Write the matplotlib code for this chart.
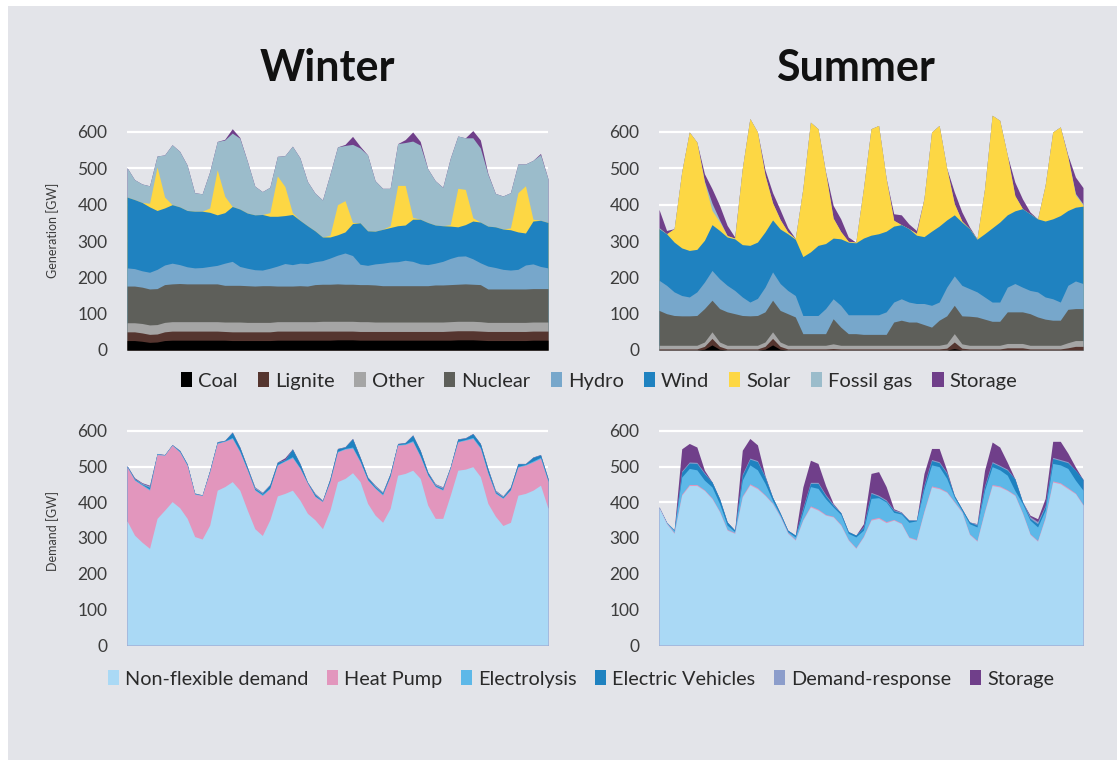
import matplotlib
matplotlib.use("Agg")
import matplotlib.pyplot as plt
from matplotlib.patches import Rectangle, Patch
import numpy as np

plt.rcParams['font.family'] = ['Lato', 'DejaVu Sans']

# time axis: one week, 3-hour steps
hours = list(range(0, 169, 3))

# ---------------- Winter generation [GW] ----------------
coal_w = [26,26,24,21,22,26,27,27,27,27, 27,27,27,27,26,26,26,26,26,26,
          27,27,27,27,27,27,27,27,28,28, 28,27,27,27,27,27,27,27,27,27,
          27,27,27,27,28,28,28,27,26,26, 26,26,26,26,27,27,27]
lignite_w = [24,24,23,22,22,24,25,25,25,25, 25,25,25,24,24,24,24,24,24,24,
             25,25,25,25,25,25,25,25,24,24, 24,24,24,24,24,24,24,24,24,24,
             24,24,24,25,25,25,25,25,25,25, 25,25,25,25,25,25,25]
other_w = [25,25,26,26,26,26,26,26,26,26, 26,26,26,26,27,27,26,26,26,26,
           26,26,26,26,26,26,27,27,27,27, 27,27,27,26,26,26,26,26,26,26,
           26,26,26,26,26,26,26,26,25,25, 25,25,25,25,25,25,25]
nuclear_w = [101,101,100,99,99,104,104,105,104,104, 104,104,104,101,101,101,101,100,101,101,
             98,98,98,99,98,102,102,102,103,102, 102,102,102,102,100,100,100,100,100,100,
             100,102,102,102,102,103,102,102,92,92, 92,92,92,92,92,92,92]
hydro_w = [50,48,45,46,53,54,57,52,47,44, 45,48,51,61,66,52,48,45,43,48,
           55,62,59,62,62,63,65,72,79,86, 79,56,53,58,62,65,66,70,67,60,
           58,60,65,72,77,77,70,60,63,59, 54,52,54,66,68,61,57]
wind_w = [195,190,188,180,162,157,161,159,155,156, 155,149,139,139,151,158,152,151,153,143,
          137,132,138,118,104,85,65,58,56,58, 88,114,95,90,93,95,99,97,116,123,
          116,105,98,89,81,86,104,112,110,112, 111,111,103,88,118,127,125]
solar_w = [0,0,0,10,120,30,0,0,0,0, 0,12,124,45,0,0,0,0,0,10,
           111,80,5,0,0,0,0,5,83,86, 3,0,0,0,0,5,111,109,5,0,
           0,0,0,4,106,97,9,0,0,0, 0,5,108,130,5,0,0]
gas_w = [81,55,51,48,30,116,165,153,125,51, 48,100,78,155,202,195,143,79,63,70,
         54,85,183,172,122,104,102,168,159,152, 215,206,209,139,113,103,115,118,210,204,
         148,122,106,183,144,142,220,204,143,92, 91,97,79,60,162,181,120]
storage_w = [0,0,0,0,0,0,0,0,0,0, 0,0,0,2,12,2,0,0,0,0,
             0,0,0,0,0,0,0,0,0,3, 22,5,0,0,0,0,0,8,25,10,
             0,0,0,0,0,0,20,22,2,0, 0,0,0,0,0,3,0]

# ---------------- Summer generation [GW] ----------------
coal_s = [0,0,0,0,0,0,2,14,2,0, 0,0,0,0,2,14,2,0,0,0,
          0,0,0,0,0,0,0,0,0,0, 0,0,0,0,0,0,0,0,0,4,
          0,0,0,0,0,0,0,0,0,0, 0,0,0,0,0,0,0]
lignite_s = [3,3,3,3,3,3,8,18,8,3, 3,3,3,3,8,18,8,3,3,3,
             3,3,3,4,3,3,3,3,3,3, 3,3,3,3,3,3,3,3,5,18,
             5,3,3,3,3,3,6,6,6,3, 3,3,3,3,6,10,10]
other_s = [10,10,10,10,10,10,12,18,12,10, 10,10,10,10,12,18,12,10,10,10,
           10,10,10,13,10,10,10,10,10,10, 10,10,10,10,10,10,10,10,12,23,
           12,10,10,10,10,10,12,12,12,10, 10,10,10,10,14,16,16]
nuclear_s = [96,87,82,81,81,82,92,87,92,92, 87,82,81,82,83,87,87,87,78,32,
             32,32,32,69,50,32,32,30,30,30, 30,64,69,64,64,57,50,69,77,78,
             77,80,78,72,66,66,87,87,87,87, 78,72,69,69,92,88,88]
hydro_s = [83,78,65,56,52,65,73,82,82,73, 64,51,38,47,68,78,74,64,59,50,
           50,50,69,55,60,52,52,54,54,54, 62,55,59,55,51,58,60,50,79,81,
           84,76,69,61,53,53,68,78,68,64, 69,61,59,50,66,76,69]
wind_s = [142,142,137,131,128,117,115,126,133,133, 142,144,156,155,152,143,150,156,155,162,
          175,193,179,167,183,200,198,211,219,223, 222,209,204,202,188,184,204,209,185,168,
          174,165,145,174,204,220,199,200,216,211, 201,209,220,238,206,203,213]
solar_s = [0,0,37,209,326,295,160,39,24,4, 2,209,349,303,156,47,26,5,2,187,
           357,321,195,55,20,2,2,136,293,298, 145,16,0,0,5,105,273,277,142,31,
           3,0,1,124,310,280,164,42,0,0, 0,98,239,244,147,34,3]
gas_s = [3,0,0,0,0,0,3,20,5,0, 0,0,0,0,0,0,0,0,0,0,
         0,0,0,0,0,0,0,0,0,0, 0,0,0,0,0,0,0,0,0,0,
         0,0,0,0,0,0,0,0,0,0, 0,0,0,0,0,4,3]
storage_s = [50,9,0,0,0,0,20,40,40,28, 3,0,0,0,15,28,27,12,0,0,
             0,0,2,35,35,12,0,0,0,0, 0,18,27,13,8,0,0,0,0,32,
             25,5,0,0,0,0,0,37,27,5, 0,0,0,0,5,45,45]

# ---------------- Winter demand [GW] ----------------
nonflex_w = [348,308,288,271,355,378,402,385,355,304, 297,336,434,444,458,434,378,326,307,351,
             418,425,434,406,369,351,326,378,458,467, 483,458,397,364,344,383,476,481,490,467,
             392,355,355,420,490,493,500,472,397,361, 335,344,420,425,434,448,383]
heatpump_w = [151,154,160,163,179,154,158,156,148,119, 122,149,131,127,121,107,112,108,112,87,
              86,90,91,89,84,65,76,80,83,82, 69,55,65,75,76,89,84,81,80,61,
              84,89,79,75,79,81,79,79,84,64, 76,90,79,79,79,75,75]
electro_w = [2,2,2,3,2,1,1,2,2,1, 1,2,2,1,3,3,2,2,3,2,
             2,2,3,2,1,2,1,2,2,2, 3,3,2,2,3,2,2,2,3,3,
             2,2,2,2,2,2,3,3,3,2, 2,2,2,2,3,3,2]
ev_w = [1,2,1,5,0,0,0,2,2,1, 0,2,2,1,14,10,6,3,3,9,
        6,2,21,11,2,4,1,6,7,4, 23,10,6,3,3,6,2,3,15,14,
        6,2,3,2,6,4,10,10,10,3, 2,6,7,2,10,7,6]
dr_w = [1,1,3,4,1,1,1,1,1,1, 1,1,1,1,1,1,1,4,3,1,
        1,1,1,1,1,3,2,1,1,1, 1,1,1,4,3,1,1,1,1,1,
        1,4,4,1,1,1,1,1,1,4, 3,1,1,1,1,1,1]
dstorage_w = [0,2,1,2,0,0,0,0,0,0, 0,0,0,0,0,0,0,0,0,0,
              0,5,0,0,0,0,0,0,0,0, 0,0,0,0,0,0,0,0,0,0,
              0,0,0,0,0,0,0,0,0,0, 0,0,0,0,0,0,0]

# ---------------- Summer demand [GW] ----------------
nonflex_s = [385,340,313,420,447,447,433,410,373,322, 313,415,449,438,419,396,359,313,294,350,
             387,378,364,359,336,294,271,303,350,355, 343,350,340,301,294,373,443,438,428,400,
             372,310,291,373,447,443,433,419,369,310, 291,355,457,452,438,424,392]
heatpump_s = [2,2,2,3,3,3,2,2,2,2, 2,3,3,3,2,2,2,2,2,2,
              3,3,2,2,2,2,2,2,3,3, 3,2,2,2,2,3,3,3,2,2,
              2,2,2,3,3,3,2,2,2,2, 2,3,3,3,3,2,2]
electro_s = [0,2,6,48,45,41,27,31,21,12, 3,44,53,50,32,7,4,3,7,21,
             54,58,44,26,28,17,30,17,58,55, 55,20,25,41,52,60,59,59,37,12,
             3,28,38,58,50,45,41,12,26,38, 38,20,49,50,54,36,40]
ev_s = [0,0,1,14,15,18,18,14,14,9, 4,14,16,23,18,9,5,4,5,9,
        9,14,9,5,5,5,5,8,14,4, 3,5,3,6,2,10,12,11,14,5,
        5,5,5,10,11,10,14,33,5,5, 9,10,14,12,16,28,30]
dr_s = [0,0,1,3,3,3,3,0,0,0, 0,3,3,3,2,0,0,0,0,3,
        3,3,3,3,0,0,0,2,3,3, 3,2,3,0,0,3,3,3,3,0,
        0,0,4,3,3,3,3,0,0,5, 6,3,3,3,3,0,0]
dstorage_s = [0,0,0,62,52,43,7,0,0,0, 0,67,55,44,2,0,0,0,0,58,
              62,53,25,2,0,0,0,8,53,66, 37,3,0,0,0,32,31,37,6,0,
              0,0,0,43,55,51,19,0,0,4, 8,20,45,51,24,9,0]

gen_labels = ["Coal", "Lignite", "Other", "Nuclear", "Hydro", "Wind", "Solar", "Fossil gas", "Storage"]
gen_colors = ["#000000", "#55352f", "#a5a5a5", "#5e5f5a", "#77a7cb", "#1f82c0", "#fdd744", "#9bbccb", "#703f8a"]
dem_labels = ["Non-flexible demand", "Heat Pump", "Electrolysis", "Electric Vehicles", "Demand-response", "Storage"]
dem_colors = ["#aad9f5", "#e296bd", "#5db8e8", "#1f82c0", "#8c9dcb", "#703f8a"]

W, H = 1117, 760
fig = plt.figure(figsize=(W / 100, H / 100), dpi=100, facecolor="white")
fig.patches.append(Rectangle((8 / W, 0), (W - 8) / W, (H - 6) / H, transform=fig.transFigure,
                             facecolor="#e3e4e9", edgecolor="none", zorder=-10))

def px_axes(x0, x1, y_top, y_bot):
    return fig.add_axes([x0 / W, 1 - y_bot / H, (x1 - x0) / W, (y_bot - y_top) / H])

def stacked(ax, series, colors, ymax):
    ax.set_facecolor("none")
    x = np.array(hours)
    cum = np.cumsum(np.array(series, dtype=float), axis=0)
    for i in range(len(series) - 1, -1, -1):
        ax.fill_between(x, 0, cum[i], color=colors[i], linewidth=0, zorder=2 + (len(series) - i) * 0.01)
    ax.set_xlim(0, 168)
    ax.set_ylim(0, ymax)
    ax.set_yticks([0, 100, 200, 300, 400, 500, 600])
    ax.grid(axis="y", color="white", linewidth=1.6, zorder=1)
    ax.set_axisbelow(True)
    ax.set_xticks([])
    for s in ax.spines.values():
        s.set_visible(False)
    ax.tick_params(axis="y", length=0, pad=14, labelsize=12.5, labelcolor="#3c3c3c")

gen_w = [coal_w, lignite_w, other_w, nuclear_w, hydro_w, wind_w, solar_w, gas_w, storage_w]
gen_s = [coal_s, lignite_s, other_s, nuclear_s, hydro_s, wind_s, solar_s, gas_s, storage_s]
dem_w = [nonflex_w, heatpump_w, electro_w, ev_w, dr_w, dstorage_w]
dem_s = [nonflex_s, heatpump_s, electro_s, ev_s, dr_s, dstorage_s]

# generation axes: 0 at y=350, 600 at y=132 -> top (660) at ~110
ax1 = px_axes(127, 548, 110.2, 350)
ax2 = px_axes(659, 1083, 110.2, 350)
# demand axes: 0 at y=645, 600 at y=431 -> top (640) at ~417
ax3 = px_axes(127, 548, 416.7, 645)
ax4 = px_axes(659, 1083, 416.7, 645)

stacked(ax1, gen_w, gen_colors, 660)
stacked(ax2, gen_s, gen_colors, 660)
stacked(ax3, dem_w, dem_colors, 640)
stacked(ax4, dem_s, dem_colors, 640)

ax1.set_ylabel("Generation [GW]", fontsize=9, color="#3c3c3c", labelpad=13)
ax3.set_ylabel("Demand [GW]", fontsize=9, color="#3c3c3c", labelpad=13)

fig.text(327 / W, 1 - 68 / H, "Winter", ha="center", va="center", fontsize=31, fontweight="bold", color="#111111")
fig.text(855 / W, 1 - 68 / H, "Summer", ha="center", va="center", fontsize=31, fontweight="bold", color="#111111")

gh = [Patch(facecolor=c, edgecolor="none") for c in gen_colors]
fig.legend(gh, gen_labels, loc="center", bbox_to_anchor=(599 / W, 1 - 381 / H), ncol=9, frameon=False,
           fontsize=14.5, handlelength=0.55, handleheight=0.75, handletextpad=0.3, columnspacing=1.0,
           labelcolor="#2a2a2a")
dh = [Patch(facecolor=c, edgecolor="none") for c in dem_colors]
fig.legend(dh, dem_labels, loc="center", bbox_to_anchor=(581 / W, 1 - 679 / H), ncol=6, frameon=False,
           fontsize=14.3, handlelength=0.55, handleheight=0.75, handletextpad=0.3, columnspacing=0.95,
           labelcolor="#2a2a2a")

fig.savefig("out.png", dpi=100, facecolor="white")
